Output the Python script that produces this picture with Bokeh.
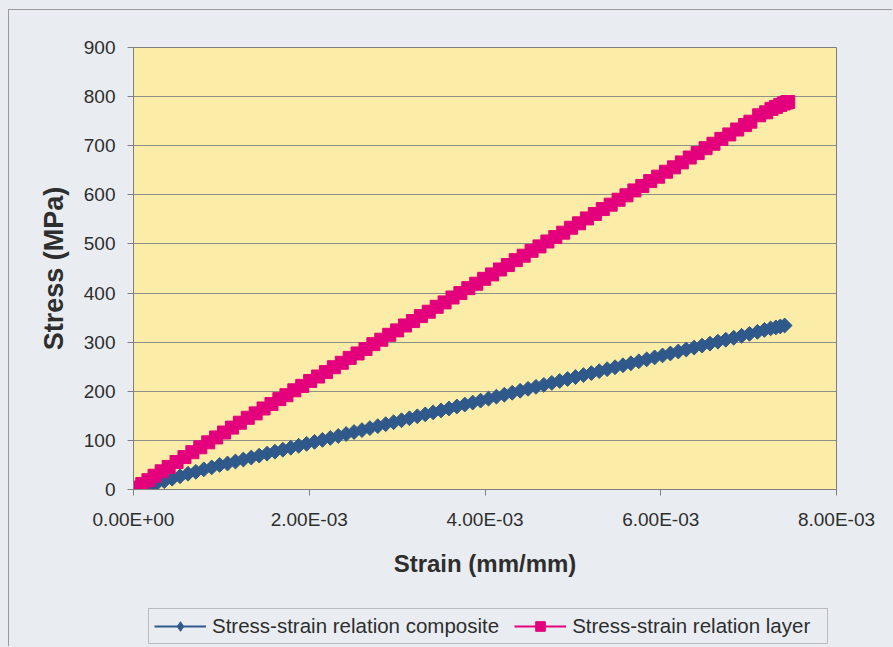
import math

from bokeh.embed import file_html
from bokeh.layouts import column
from bokeh.models import ColumnDataSource, FixedTicker, Legend, LegendItem
from bokeh.plotting import figure
from bokeh.resources import INLINE

# Measured stress-strain data (strain given in units of 1E-3 mm/mm, stress in MPa)
strain_composite_milli = [
    0.06, 0.11, 0.18, 0.26, 0.35, 0.44, 0.53, 0.62, 0.71, 0.80,
    0.89, 0.98, 1.07, 1.16, 1.25, 1.34, 1.43, 1.52, 1.61, 1.70,
    1.79, 1.88, 1.97, 2.06, 2.15, 2.24, 2.33, 2.42, 2.51, 2.60,
    2.69, 2.78, 2.87, 2.96, 3.05, 3.14, 3.23, 3.32, 3.41, 3.50,
    3.59, 3.68, 3.77, 3.86, 3.95, 4.04, 4.13, 4.22, 4.31, 4.40,
    4.49, 4.58, 4.67, 4.76, 4.85, 4.94, 5.03, 5.12, 5.21, 5.30,
    5.39, 5.48, 5.57, 5.66, 5.75, 5.84, 5.93, 6.02, 6.11, 6.20,
    6.29, 6.38, 6.47, 6.56, 6.65, 6.74, 6.83, 6.92, 7.01, 7.10,
    7.18, 7.25, 7.31, 7.36, 7.41,
]
stress_composite = [
    0, 3, 7, 12, 17, 22, 27, 32, 36, 41,
    45, 50, 53, 57, 61, 65, 69, 73, 77, 81,
    85, 89, 93, 97, 101, 105, 109, 113, 117, 121,
    125, 129, 133, 137, 141, 145, 149, 153, 157, 161,
    165, 169, 173, 177, 181, 185, 189, 193, 197, 201,
    205, 209, 213, 217, 221, 225, 229, 233, 237, 241,
    245, 249, 253, 257, 261, 265, 269, 273, 277, 281,
    285, 289, 293, 297, 301, 305, 309, 313, 317, 321,
    325, 328, 330, 332, 334,
]

strain_layer_milli = [
    0.00, 0.04, 0.10, 0.17, 0.24, 0.32, 0.40, 0.49, 0.58, 0.67,
    0.76, 0.85, 0.94, 1.03, 1.12, 1.21, 1.30, 1.39, 1.48, 1.57,
    1.66, 1.74, 1.83, 1.92, 2.01, 2.10, 2.19, 2.28, 2.37, 2.46,
    2.55, 2.64, 2.73, 2.82, 2.91, 3.00, 3.09, 3.18, 3.27, 3.36,
    3.45, 3.54, 3.63, 3.72, 3.81, 3.90, 3.99, 4.08, 4.17, 4.26,
    4.35, 4.44, 4.53, 4.62, 4.71, 4.80, 4.89, 4.98, 5.07, 5.16,
    5.25, 5.34, 5.43, 5.52, 5.61, 5.70, 5.79, 5.88, 5.97, 6.06,
    6.15, 6.24, 6.33, 6.42, 6.51, 6.60, 6.69, 6.78, 6.87, 6.96,
    7.02, 7.12, 7.20, 7.26, 7.31, 7.36, 7.40, 7.43, 7.45,
]
stress_layer = [
    0, 4, 11, 19, 28, 37, 46, 56, 66, 76,
    86, 96, 106, 116, 126, 136, 146, 155, 165, 174,
    184, 192, 202, 211, 221, 230, 239, 249, 258, 268,
    277, 286, 296, 305, 315, 324, 334, 343, 353, 362,
    372, 381, 391, 400, 410, 419, 429, 438, 448, 457,
    467, 476, 486, 495, 505, 514, 523, 533, 542, 552,
    561, 571, 580, 590, 599, 609, 618, 628, 637, 647,
    656, 666, 676, 685, 695, 704, 714, 723, 733, 742,
    749, 762, 768, 775, 779, 783, 786, 788, 789,
]

series_names = ["Stress-strain relation composite", "Stress-strain relation layer"]

x_ticks = [0.0, 0.002, 0.004, 0.006, 0.008]
x_tick_labels = ["0.00E+00", "2.00E-03", "4.00E-03", "6.00E-03", "8.00E-03"]
y_ticks = [0, 100, 200, 300, 400, 500, 600, 700, 800, 900]

BG = "#e9edf1"
PLOT_BG = "#fbeda8"
GRID = "#8d9084"
AXIS = "#7f7f7f"
TEXT = "#2e2e2e"
BLUE = "#30598b"
PINK = "#e4007c"
FONT = "Liberation Sans"
EDGE = "1px solid #9a9a9a"

src_comp = ColumnDataSource(dict(
    x=[v * 1e-3 for v in strain_composite_milli], y=stress_composite))
src_layer = ColumnDataSource(dict(
    x=[v * 1e-3 for v in strain_layer_milli], y=stress_layer))

# main chart
p = figure(
    width=884, height=590,
    x_range=(0, 0.008), y_range=(0, 900),
    output_backend="svg", toolbar_location=None,
    min_border_left=124, min_border_right=57,
    min_border_top=37, min_border_bottom=111,
)
p.background_fill_color = PLOT_BG
p.border_fill_color = BG
p.outline_line_color = AXIS
p.outline_line_width = 1

p.xaxis.ticker = FixedTicker(ticks=x_ticks)
p.xaxis.major_label_overrides = {t: lab for t, lab in zip(x_ticks, x_tick_labels)}
p.yaxis.ticker = FixedTicker(ticks=y_ticks)
p.xaxis.axis_label = "Strain (mm/mm)"
p.yaxis.axis_label = "Stress (MPa)"
for ax in (p.xaxis, p.yaxis):
    ax.axis_line_color = AXIS
    ax.major_tick_line_color = AXIS
    ax.major_tick_out = 6
    ax.major_tick_in = 0
    ax.minor_tick_line_color = None
    ax.major_label_text_font = FONT
    ax.major_label_text_font_size = "19px"
    ax.major_label_text_color = TEXT
    ax.axis_label_text_font = FONT
    ax.axis_label_text_font_style = "bold"
    ax.axis_label_text_color = TEXT
p.xaxis.axis_label_text_font_size = "24px"
p.yaxis.axis_label_text_font_size = "27px"
p.xaxis.major_label_standoff = 13
p.yaxis.major_label_standoff = 12
p.xaxis.axis_label_standoff = 17
p.yaxis.axis_label_standoff = 12

p.xgrid.grid_line_color = None
p.ygrid.grid_line_color = GRID
p.ygrid.grid_line_width = 1

line_kw = dict(line_width=2)
pink_marker = dict(marker="square", size=13, fill_color=PINK, line_color=PINK)

p.line("x", "y", source=src_comp, line_color=BLUE, **line_kw)
p.scatter("x", "y", source=src_comp, marker="square", angle=math.pi / 4,
          size=10.5, fill_color=BLUE, line_color=BLUE)
p.line("x", "y", source=src_layer, line_color=PINK, **line_kw)
p.scatter("x", "y", source=src_layer, **pink_marker)

# legend strip below the chart; its ranges keep the series themselves out of view
leg = figure(
    width=884, height=47, x_range=(1, 2), y_range=(1000, 2000),
    output_backend="svg", toolbar_location=None,
    min_border=0, x_axis_type=None, y_axis_type=None,
)
leg.background_fill_color = BG
leg.border_fill_color = BG
leg.outline_line_color = None
leg.xgrid.visible = False
leg.ygrid.visible = False

k1 = leg.line("x", "y", source=src_comp, line_color=BLUE, **line_kw)
s1 = leg.scatter("x", "y", source=src_comp, marker="diamond", size=19,
                 fill_color=BLUE, line_color=BLUE)
k2 = leg.line("x", "y", source=src_layer, line_color=PINK, **line_kw)
s2 = leg.scatter("x", "y", source=src_layer, **pink_marker)

legend = Legend(
    items=[LegendItem(label=series_names[0], renderers=[k1, s1]),
           LegendItem(label=series_names[1], renderers=[k2, s2])],
    orientation="horizontal",
    location=(15, 2),
    label_text_font=FONT, label_text_font_size="20.5px", label_text_color=TEXT,
    glyph_width=52, glyph_height=24, label_height=24, label_width=250,
    label_standoff=6, spacing=15, padding=5, margin=0,
    background_fill_color=BG, background_fill_alpha=1,
    border_line_color="#8a8a8a", border_line_width=1,
)
leg.add_layout(legend, "center")

p.styles = {"border-left": EDGE, "border-top": EDGE}
leg.styles = {"border-left": EDGE}

page = column(p, leg, spacing=0, styles={
    "background-color": BG,
    "padding": "9px 0px 0px 8px",
    "width": "893px", "height": "647px",
    "box-sizing": "border-box", "overflow": "hidden",
})

open("out.html", "w").write(file_html(page, INLINE))
